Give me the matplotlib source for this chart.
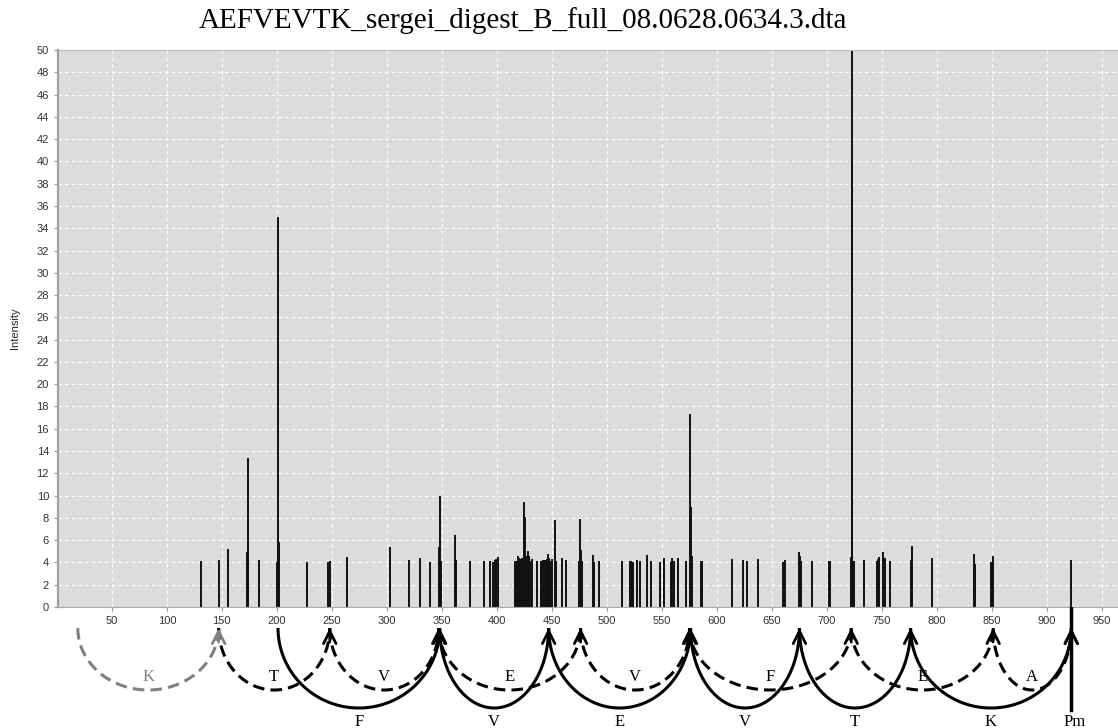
import numpy as np
import matplotlib
matplotlib.use("Agg")
import matplotlib.pyplot as plt

title = "AEFVEVTK_sergei_digest_B_full_08.0628.0634.3.dta"

# peak list (m/z, intensity)
mz = [131.0, 147.5, 155.4, 173.2, 173.6, 174.2, 184.0, 200.0, 201.1, 202.4,
      227.0, 247.0, 248.5, 264.0, 303.3, 320.0, 330.6, 339.0, 347.3, 348.4,
      349.4, 362.4, 363.3, 375.5, 388.0, 394.0, 397.0, 398.5, 399.7, 401.0,
      416.4, 417.3, 418.2, 419.1, 420.0, 421.0, 421.8, 422.7, 423.8, 424.8,
      425.7, 426.6, 427.5, 428.5, 429.4, 430.3, 432.0, 436.3, 440.0, 441.2,
      442.4, 443.6, 444.6, 445.5, 446.4, 447.6, 448.8, 450.0, 453.0, 454.0,
      459.7, 462.6, 475.0, 476.0, 477.0, 477.7, 487.3, 488.2, 493.0, 513.6,
      521.5, 522.4, 523.3, 524.2, 527.3, 530.0, 536.4, 540.6, 548.5, 552.0,
      558.5, 559.4, 561.2, 564.5, 572.3, 575.4, 576.4, 577.3, 585.7, 586.6,
      614.2, 624.0, 627.9, 637.5, 660.3, 662.4, 675.0, 676.0, 677.0, 686.6,
      702.4, 703.3, 721.8, 722.7, 723.3, 724.2, 725.0, 734.0, 745.4, 746.4,
      747.8, 751.5, 752.7, 757.3, 776.4, 777.3, 795.7, 834.0, 835.4, 849.6,
      850.5, 851.5, 922.7]
intensity = [4.1, 4.2, 5.2, 4.9, 13.4, 4.2, 4.2, 4.0, 35.0, 5.8,
             4.0, 4.0, 4.1, 4.5, 5.4, 4.2, 4.4, 4.0, 5.4, 10.0,
             4.1, 6.5, 4.2, 4.1, 4.1, 4.1, 4.0, 4.2, 4.3, 4.5,
             4.1, 4.1, 4.1, 4.6, 4.4, 4.2, 4.3, 4.4, 4.4, 9.4,
             8.1, 4.6, 4.0, 5.0, 4.6, 4.1, 4.3, 4.1, 4.1, 4.1,
             4.2, 4.2, 4.2, 4.3, 4.8, 4.4, 4.1, 4.3, 7.8, 4.1,
             4.4, 4.2, 4.1, 7.9, 5.1, 4.1, 4.7, 4.0, 4.1, 4.1,
             4.1, 4.1, 4.0, 4.0, 4.2, 4.1, 4.7, 4.1, 4.0, 4.4,
             4.0, 4.4, 4.1, 4.4, 4.1, 17.3, 9.0, 4.6, 4.1, 4.1,
             4.3, 4.2, 4.1, 4.3, 4.0, 4.2, 4.9, 4.6, 4.1, 4.1,
             4.1, 4.1, 4.5, 52.0, 40.0, 4.1, 4.1, 4.2, 4.1, 4.3,
             4.5, 4.9, 4.4, 4.1, 4.2, 5.5, 4.4, 4.8, 3.9, 4.0,
             4.0, 4.6, 4.2]

# b ladder (solid) and y ladder (dashed), residue between consecutive masses
b_mass = [201.09, 348.16, 447.22, 576.27, 675.33, 776.38, 922.49]
b_res = ["F", "V", "E", "V", "T", "K"]
y_mass = [19.02, 147.11, 248.16, 347.23, 476.27, 575.34, 722.41, 851.45, 922.49]
y_res = ["K", "T", "V", "E", "V", "F", "E", "A"]
precursor = 922.49

W, H = 1118, 728
fig = plt.figure(figsize=(W / 100, H / 100), dpi=100)
left = 58 / W
bot = 1 - 607 / H
top = 1 - 50 / H
ax = fig.add_axes([left, bot, 1 - left, top - bot])

ax.set_facecolor("#dcdcdc")
ax.vlines(mz, 0, intensity, color="#111111", lw=1.4)
ax.set_xlim(1, 965)
ax.set_ylim(0, 50)
ax.set_xticks(np.arange(50, 951, 50))
ax.set_yticks(np.arange(0, 51, 2))
ax.grid(True, color="white", ls=(0, (3, 3)), lw=0.8)
ax.set_axisbelow(True)
ax.tick_params(colors="#999999", labelcolor="#333333", labelsize=8,
               length=3, width=0.8)
for lab in ax.get_xticklabels() + ax.get_yticklabels():
    lab.set_family("Liberation Sans")
ax.set_ylabel("Intensity", fontsize=8, family="Liberation Sans", color="#222222",
              labelpad=12)
ax.spines["right"].set_visible(False)
ax.spines["left"].set_color("#a0a0a0")
ax.spines["left"].set_linewidth(1.6)
ax.spines["bottom"].set_color("#a8a8a8")
ax.spines["top"].set_color("#bbbbbb")

fig.text(523 / W, 1 - 28 / H, title, ha="center", va="baseline",
         fontsize=21, family="Liberation Serif")

# ladder panel below the x axis, y in pixels below the axis line
ax2 = fig.add_axes([left, 0, 1 - left, bot])
ax2.set_xlim(1, 965)
ax2.set_ylim(121, 0)
ax2.axis("off")

y0 = 21


def ladder(masses, residues, depth, ls, color, label_y):
    for i, res in enumerate(residues):
        x0, x1 = masses[i], masses[i + 1]
        t = np.linspace(np.pi, 0, 120)
        c = (x0 + x1) / 2
        a = (x1 - x0) / 2
        ax2.plot(c + a * np.cos(t), y0 + depth * np.sin(t), ls=ls, color=color,
                 lw=2.2, solid_capstyle="butt")
        ax2.annotate("", xy=(x1, y0), xytext=(x1, y0 + 14),
                     arrowprops=dict(arrowstyle="->,head_length=0.9,head_width=0.45",
                                     lw=2.0, color=color, shrinkA=0, shrinkB=0))
        ax2.text(c, label_y, res, ha="center", va="center", fontsize=12,
                 family="Liberation Serif", color=color)


dash = (0, (3.8, 2))
ladder(y_mass[:2], y_res[:1], 62, dash, "#808080", 70)
ladder(y_mass[1:], y_res[1:], 62, dash, "black", 70)
ladder(b_mass, b_res, 80, "-", "black", 115)

ax2.plot([precursor, precursor], [0, 103], color="black", lw=2.5)
ax2.text(precursor + 3, 115, "Pm", ha="center", va="center", fontsize=12,
         family="Liberation Serif")

fig.savefig("out.png", dpi=100)
